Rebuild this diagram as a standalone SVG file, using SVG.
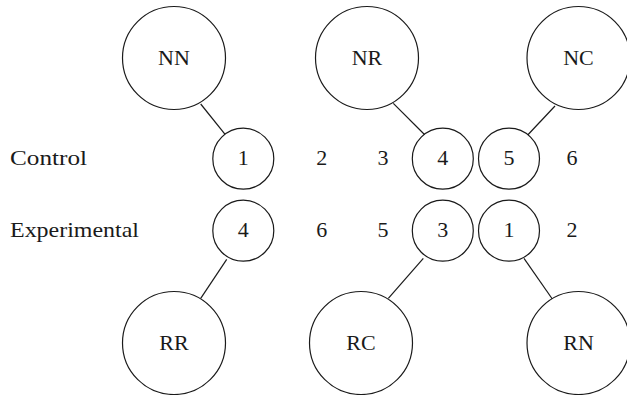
<svg xmlns="http://www.w3.org/2000/svg" width="627" height="395" viewBox="0 0 627 395">
<style>
circle{fill:#fff;stroke:#1a1a1a;stroke-width:1.2}
line{stroke:#1a1a1a;stroke-width:1.2}
text{font-family:"Liberation Serif","Times New Roman",serif;font-size:22px;fill:#1a1a1a}
.c{text-anchor:middle}
</style>
<rect width="627" height="395" fill="#fff"/>
<g id="connectors">
<line x1="200.7" y1="104" x2="225.3" y2="134.7"/>
<line x1="393.3" y1="103.3" x2="425" y2="135"/>
<line x1="555" y1="106" x2="527.7" y2="135"/>
<line x1="226.7" y1="259.3" x2="200.7" y2="298.3"/>
<line x1="423.3" y1="258.3" x2="388.3" y2="298.3"/>
<line x1="524" y1="258.3" x2="552.3" y2="299"/>
</g>
<g id="node-NN"><circle cx="174" cy="58" r="51.5"/><text class="c" x="174" y="64.5">NN</text></g>
<g id="node-NR"><circle cx="367" cy="58" r="51.5"/><text class="c" x="367" y="64.5">NR</text></g>
<g id="node-NC"><circle cx="578.5" cy="58" r="51.5"/><text class="c" x="578.5" y="64.5">NC</text></g>
<g id="node-RR"><circle cx="174" cy="343" r="51.5"/><text class="c" x="174" y="350">RR</text></g>
<g id="node-RC"><circle cx="361" cy="343" r="51.5"/><text class="c" x="361" y="350">RC</text></g>
<g id="node-RN"><circle cx="578.5" cy="343" r="51.5"/><text class="c" x="578.5" y="350">RN</text></g>
<g id="label-control"><text x="10" y="165.3" textLength="77" lengthAdjust="spacingAndGlyphs">Control</text></g>
<g id="label-experimental"><text x="10" y="237" textLength="129" lengthAdjust="spacingAndGlyphs">Experimental</text></g>
<g id="c1"><circle cx="243.3" cy="158.7" r="30.5"/><text class="c" x="243.3" y="165.3">1</text></g>
<g id="c2"><text class="c" x="321.7" y="165.3">2</text></g>
<g id="c3"><text class="c" x="383" y="165.3">3</text></g>
<g id="c4"><circle cx="442.8" cy="158.7" r="30.5"/><text class="c" x="442.8" y="165.3">4</text></g>
<g id="c5"><circle cx="509" cy="158.7" r="30.5"/><text class="c" x="509" y="165.3">5</text></g>
<g id="c6"><text class="c" x="572" y="165.3">6</text></g>
<g id="e4"><circle cx="243.3" cy="230.7" r="30.5"/><text class="c" x="243.3" y="237.3">4</text></g>
<g id="e6"><text class="c" x="321.7" y="237.3">6</text></g>
<g id="e5"><text class="c" x="383" y="237.3">5</text></g>
<g id="e3"><circle cx="442.8" cy="230.7" r="30.5"/><text class="c" x="442.8" y="237.3">3</text></g>
<g id="e1"><circle cx="509" cy="230.7" r="30.5"/><text class="c" x="509" y="237.3">1</text></g>
<g id="e2"><text class="c" x="572" y="237.3">2</text></g>
</svg>
